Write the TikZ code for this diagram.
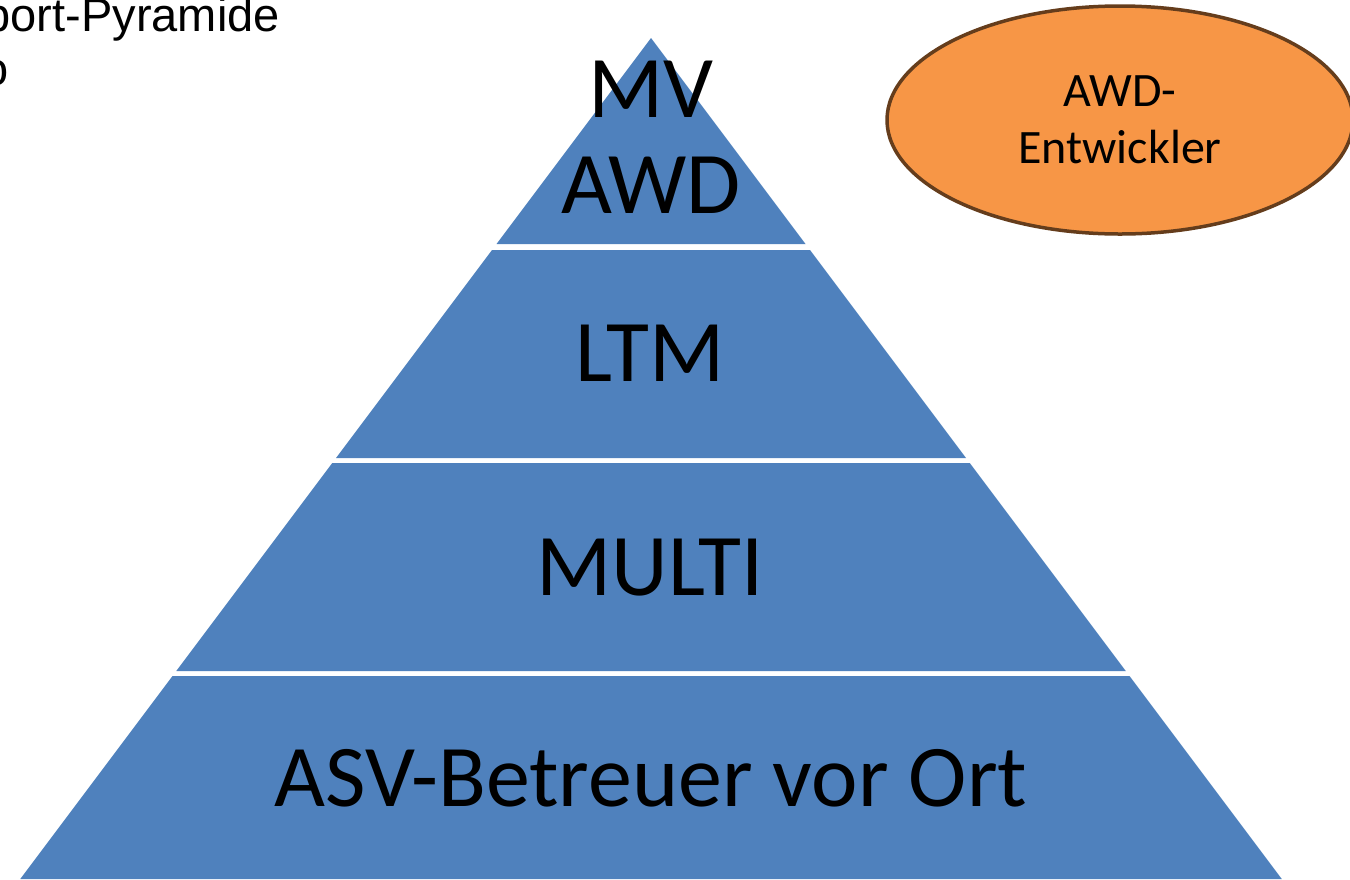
\documentclass[tikz,border=0pt]{standalone}
\usepackage{fontspec}
\setmainfont{Carlito}
\newfontfamily\arialfont{Liberation Sans}
\usetikzlibrary{shapes.geometric}
\definecolor{pyrblue}{HTML}{4F81BD}
\definecolor{devorange}{HTML}{F79646}
\definecolor{devbrown}{HTML}{653D1C}
\tikzset{
  layer/.style={fill=pyrblue},
  bigtext/.style={font=\fontsize{88}{96}\selectfont, inner sep=0pt, align=center},
  devtext/.style={font=\fontsize{48}{57}\selectfont, align=center},
  titletext/.style={font=\arialfont\fontsize{47}{54}\selectfont, anchor=base east, inner sep=0pt}
}
\begin{document}
\begin{tikzpicture}[x=1pt,y=-1pt]
			\useasboundingbox (0,0) rectangle (1350,879);
			\clip (0,0) rectangle (1350,879);
			% layers of the pyramid, top to bottom
			\fill [layer] (651,38) -- (805.5,244) -- (496.5,244) -- cycle;
			\fill [layer] (492,250) -- (810,250) -- (966,458) -- (336,458) -- cycle;
			\fill [layer] (332.25,463) -- (969.75,463) -- (1125.75,671) -- (176.25,671) -- cycle;
			\fill [layer] (172.5,676) -- (1129.5,676) -- (1281.75,879) -- (20.25,879) -- cycle;
			\node [bigtext] (mv) at (651,137) {MV\\AWD};
			\node [bigtext,anchor=base] (ltm) at (650,381) {LTM};
			\node [bigtext,anchor=base] (multi) at (650,595) {MULTI};
			\node [bigtext,anchor=base] (asv) at (651,806) {ASV-Betreuer vor Ort};
			% developer ellipse
			\node [ellipse,draw=devbrown,line width=3.5pt,fill=devorange,
				minimum width=466pt,minimum height=228pt,devtext] (dev) at (1120,120) {AWD-\\Entwickler};
			% title, cut off at the left
			\node [titletext] (title) at (280,31) {Support-Pyramide};
			\node [titletext] (sub) at (9,85) {o};
		\end{tikzpicture}
\end{document}
